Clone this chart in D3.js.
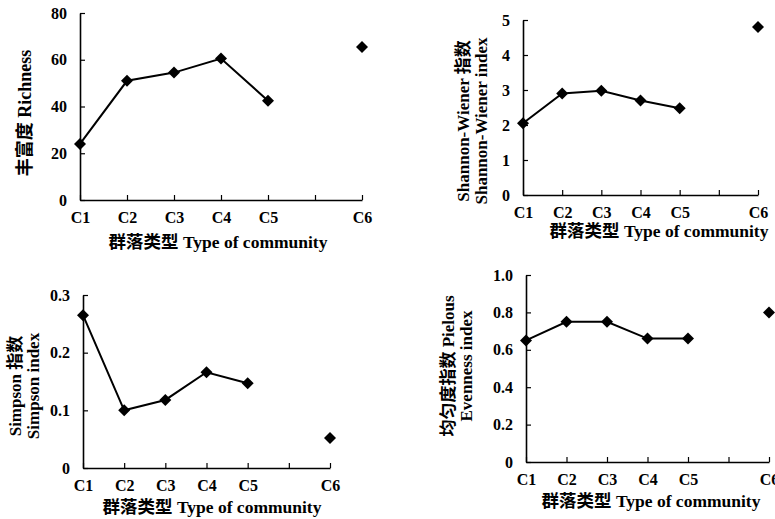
<!DOCTYPE html>
<html>
<head>
<meta charset="utf-8">
<script src="https://cdn.jsdelivr.net/npm/d3@7"></script>
<style>
	html, body { margin: 0; padding: 0; background: #fff; }
	svg text { font-family: "Liberation Serif", "Noto Sans CJK SC", serif; font-weight: bold; fill: #000; }
</style>
</head>
<body>
<svg id="chart" width="775" height="519"></svg>
<script>
var xSlots = ["C1", "C2", "C3", "C4", "C5", "", "C6"];
var communities = ["C1", "C2", "C3", "C4", "C5", "C6"];
var linked = ["C1", "C2", "C3", "C4", "C5"];

var richness = [24, 51, 54.5, 60.5, 42.5, 65.5];
var shannon = [2.05, 2.9, 2.98, 2.7, 2.48, 4.8];
var simpson = [0.265, 0.1, 0.118, 0.166, 0.147, 0.052];
var pielou = [0.65, 0.75, 0.75, 0.66, 0.66, 0.8];

var richnessTicks = [0, 20, 40, 60, 80];
var shannonTicks = [0, 1, 2, 3, 4, 5];
var simpsonTicks = [0, 0.1, 0.2, 0.3];
var pielouTicks = [0, 0.2, 0.4, 0.6, 0.8, 1.0];

var xTitle = "群落类型 Type of community";

var svg = d3.select("#chart");

function drawPanel(p) {
	var x = d3.scalePoint().domain(xSlots).range([p.x0, p.x1]);
	var y = d3.scaleLinear().domain([p.ticks[0], p.ticks[p.ticks.length - 1]]).range([p.yb, p.yt]);
	var g = svg.append("g");

	g.append("g")
		.attr("transform", "translate(0," + p.yb + ")")
		.call(d3.axisBottom(x).tickSizeInner(-5).tickSizeOuter(0).tickPadding(12))
		.call(styleAxis)
		.selectAll("text").attr("font-size", 16);

	g.append("g")
		.attr("transform", "translate(" + p.x0 + ",0)")
		.call(d3.axisLeft(y).tickValues(p.ticks).tickFormat(p.fmt).tickSizeInner(-5).tickSizeOuter(0).tickPadding(13))
		.call(styleAxis)
		.selectAll("text").attr("font-size", 16);

	var pts = communities.map(function (c, i) { return { c: c, v: p.values[i] }; });

	g.append("path")
		.datum(pts.filter(function (d) { return linked.indexOf(d.c) !== -1; }))
		.attr("fill", "none")
		.attr("stroke", "#000")
		.attr("stroke-width", 2)
		.attr("d", d3.line().x(function (d) { return x(d.c); }).y(function (d) { return y(d.v); }));

	g.selectAll(".pt")
		.data(pts)
		.enter()
			.append("path")
				.attr("class", "pt")
				.attr("fill", "#000")
				.attr("d", d3.symbol(d3.symbolSquare, 72))
				.attr("transform", function (d) { return "translate(" + x(d.c) + "," + y(d.v) + ") rotate(45)"; });

	g.append("text")
		.attr("x", p.tx)
		.attr("y", p.ty)
		.attr("text-anchor", "middle")
		.attr("font-size", 17.5)
		.text(xTitle);

	p.ylab.forEach(function (line, i) {
		g.append("text")
			.attr("transform", "translate(" + (p.lx + i * 18) + "," + p.ly + ") rotate(-90)")
			.attr("text-anchor", "middle")
			.attr("dy", "0.35em")
			.attr("font-size", p.ylab.length > 1 ? 17 : 18)
			.text(line);
	});
}

function styleAxis(sel) {
	sel.select(".domain").attr("stroke", "#000").attr("stroke-width", 1.6);
	sel.selectAll(".tick line").attr("stroke", "#000").attr("stroke-width", 1.2);
	sel.selectAll(".tick text").attr("fill", "#000");
}

function fmtDec(d) { return d === 0 ? "0" : d3.format(".1f")(d); }

drawPanel({ values: richness, ticks: richnessTicks, fmt: d3.format("d"),
	x0: 80, x1: 362, yt: 13, yb: 200, tx: 218, ty: 248, lx: 25, ly: 113,
	ylab: ["丰富度 Richness"] });

drawPanel({ values: shannon, ticks: shannonTicks, fmt: d3.format("d"),
	x0: 523, x1: 758, yt: 20, yb: 195, tx: 659, ty: 237, lx: 463, ly: 121,
	ylab: ["Shannon-Wiener 指数", "Shannon-Wiener index"] });

drawPanel({ values: simpson, ticks: simpsonTicks, fmt: fmtDec,
	x0: 83, x1: 330, yt: 295, yb: 468, tx: 212, ty: 513, lx: 15, ly: 386,
	ylab: ["Simpson 指数", "Simpson index"] });

drawPanel({ values: pielou, ticks: pielouTicks, fmt: fmtDec,
	x0: 526, x1: 769, yt: 275, yb: 462, tx: 651, ty: 507, lx: 448, ly: 366,
	ylab: ["均匀度指数 Pielous", "Evenness index"] });
</script>
</body>
</html>
